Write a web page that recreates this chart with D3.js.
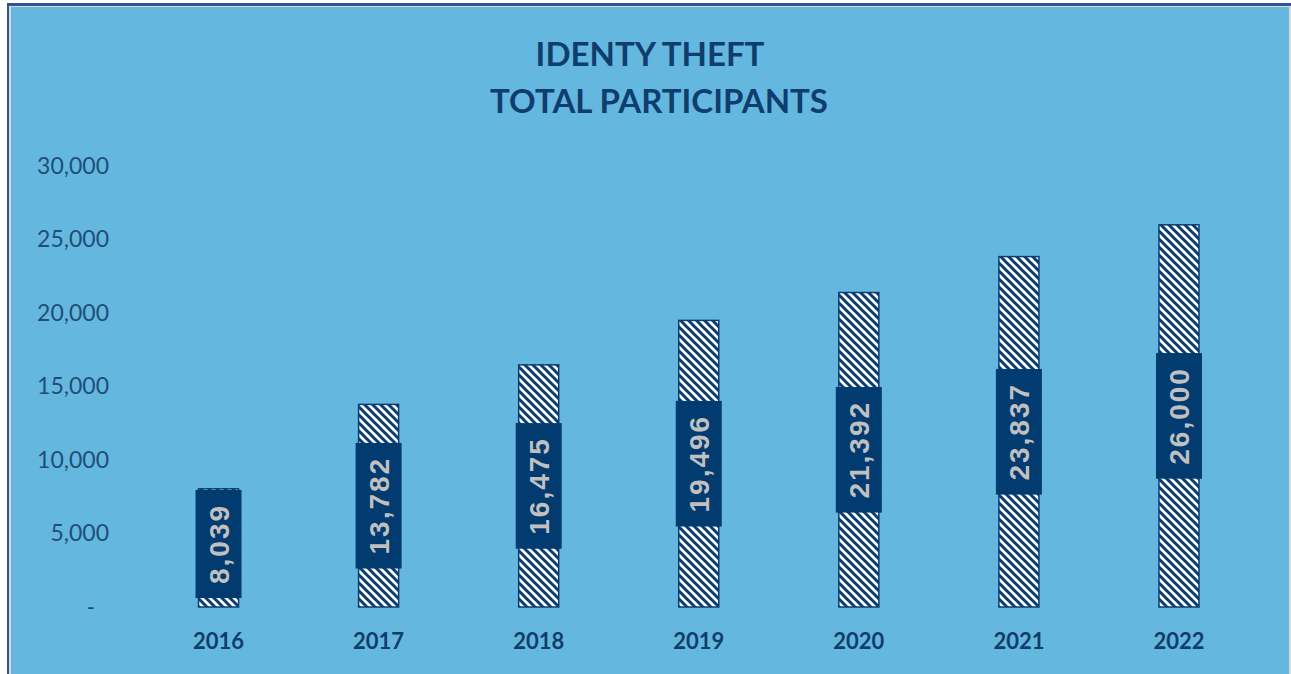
<!DOCTYPE html>
<html>
<head>
<meta charset="utf-8">
<script src="https://cdn.jsdelivr.net/npm/d3@7"></script>
<style>
  body { margin: 0; background: #fff; }
  svg { display: block; }
</style>
</head>
<body>
<svg id="chart"></svg>
<script>
// data
const years = ["2016", "2017", "2018", "2019", "2020", "2021", "2022"];
const participants = [8039, 13782, 16475, 19496, 21392, 23837, 26000];
const yTicks = [0, 5000, 10000, 15000, 20000, 25000, 30000];
const titleLines = ["IDENTY THEFT", "TOTAL PARTICIPANTS"];

let width = 1291;
let height = 674;

let svg = d3.select("#chart")
    .attr("width", width)
    .attr("height", height);

// рамка
svg.append("rect").attr("x", 7).attr("y", 3).attr("width", width - 7).attr("height", height - 3).attr("fill", "#2F5597");
svg.append("rect").attr("x", 9).attr("y", 6).attr("width", width - 9).attr("height", height - 6).attr("fill", "#D9D9D9");
svg.append("rect").attr("x", 11).attr("y", 7).attr("width", 1289 - 11).attr("height", height - 7).attr("fill", "#64B8DF");

// штриховка
let defs = svg.append("defs");
let pat = defs.append("pattern")
    .attr("id", "hatch")
    .attr("patternUnits", "userSpaceOnUse")
    .attr("width", 8)
    .attr("height", 8);
pat.append("rect").attr("width", 8).attr("height", 8).attr("fill", "#ffffff");
pat.append("path")
    .attr("d", "M-1,-1 L9,9 M-1,7 L1,9 M7,-1 L9,1")
    .attr("stroke", "#0B3D74")
    .attr("stroke-width", 3);

// title
svg.selectAll(".title")
    .data(titleLines)
    .enter().append("text")
    .attr("x", (d, i) => i === 0 ? 650 : 659)
    .attr("y", (d, i) => 66 + i * 47)
    .attr("text-anchor", "middle")
    .style("font-family", "Lato, 'Open Sans', sans-serif")
    .style("font-weight", "bold")
    .style("font-size", "33px")
    .style("fill", "#0E3D6E")
    .text(d => d);

let scaleX = d3.scaleBand()
    .domain(years)
    .range([138.5, 1259])
    .paddingInner(0.75)
    .paddingOuter(0.375);

let scaleY = d3.scaleLinear()
    .domain([0, 30000])
    .range([607, 166]);

// y axis labels
let fmt = d3.format(",");
let axisY = d3.axisLeft(scaleY)
    .tickValues(yTicks)
    .tickSize(0)
    .tickPadding(0)
    .tickFormat(d => d === 0 ? "-" : fmt(d));

let gy = svg.append("g")
    .attr("transform", "translate(109, 0)")
    .call(axisY);
gy.select(".domain").remove();
gy.selectAll("text")
    .style("font-family", "Lato, sans-serif")
    .style("font-size", "23px")
    .style("fill", "#1F4E79")
    .attr("dx", d => d === 0 ? -14 : 0);

// x axis labels
let axisX = d3.axisBottom(scaleX).tickSize(0).tickPadding(0);
let gx = svg.append("g")
    .attr("transform", "translate(0, 633)")
    .call(axisX);
gx.select(".domain").remove();
gx.selectAll("text")
    .style("font-family", "Lato, sans-serif")
    .style("font-weight", "bold")
    .style("font-size", "22px")
    .style("fill", "#0E3D6E");

// bars
svg.selectAll(".bar")
    .data(participants)
    .enter().append("rect")
    .attr("x", (d, i) => scaleX(years[i]))
    .attr("y", d => scaleY(d))
    .attr("width", scaleX.bandwidth())
    .attr("height", d => scaleY(0) - scaleY(d))
    .attr("fill", "url(#hatch)")
    .attr("stroke", "#0B3D74")
    .attr("stroke-width", 1.5);

// data labels
let labels = svg.selectAll(".lbl")
    .data(participants)
    .enter().append("g")
    .attr("transform", (d, i) => {
        let cx = scaleX(years[i]) + scaleX.bandwidth() / 2;
        let cy = (scaleY(d) + scaleY(0)) / 2;
        return `translate(${cx}, ${cy}) rotate(-90)`;
    });

labels.append("rect").attr("class", "box");
labels.append("text")
    .attr("text-anchor", "middle")
    .attr("dy", "0.36em")
    .style("font-family", "'Liberation Sans', Arial, sans-serif")
    .style("font-weight", "bold")
    .style("font-size", "28px")
    .style("letter-spacing", "2px")
    .style("fill", "#C0C0C0")
    .text(d => fmt(d));

labels.each(function(d, i) {
    let g = d3.select(this);
    let w = g.select("text").node().getComputedTextLength() + 28;
    let h = 46;
    let cy = (scaleY(d) + scaleY(0)) / 2;
    let shift = 0;
    if (cy + w / 2 > scaleY(0) - 9) shift = (cy + w / 2) - (scaleY(0) - 9);
    g.select("rect")
        .attr("x", -w / 2 + shift)
        .attr("y", -h / 2)
        .attr("width", w)
        .attr("height", h)
        .attr("fill", "#023B70");
    g.select("text").attr("x", shift);
});
</script>
</body>
</html>
